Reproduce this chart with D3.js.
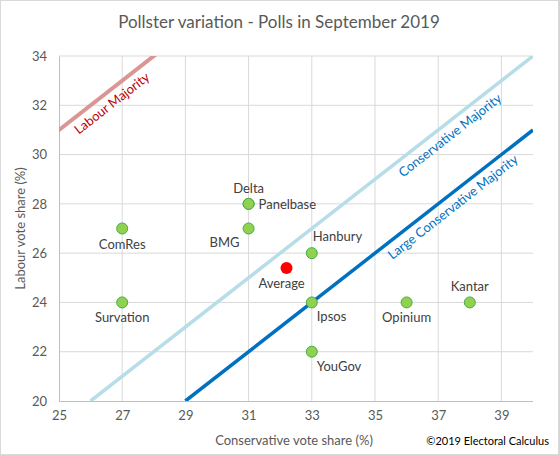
<!DOCTYPE html>
<html>
<head>
<meta charset="utf-8">
<script src="https://cdn.jsdelivr.net/npm/d3@7"></script>
<style>
  body { margin: 0; background: #fff; }
  svg { font-family: Lato, "Open Sans", sans-serif; }
</style>
</head>
<body>
<div id="chart"></div>
<script>
// poll data, September 2019
var pollsters = ['Delta', 'Panelbase', 'BMG', 'ComRes', 'Survation', 'Hanbury', 'Ipsos', 'YouGov', 'Opinium', 'Kantar'];
var conShare = [31, 31, 31, 27, 27, 33, 33, 33, 36, 38];
var labShare = [28, 28, 27, 27, 24, 26, 24, 22, 24, 24];
var averageCon = 32.2;
var averageLab = 25.4;

// boundary lines: labour = conservative + offset
var boundaryNames = ['Labour Majority', 'Conservative Majority', 'Large Conservative Majority'];
var boundaryOffsets = [6, -6, -9];

var xTicks = [25, 27, 29, 31, 33, 35, 37, 39];
var yTicks = [20, 22, 24, 26, 28, 30, 32, 34];

// where each label sits around its point
var labelPlace = {
  Delta: 'above', Panelbase: 'right', BMG: 'belowleft', ComRes: 'below',
  Survation: 'below', Hanbury: 'aboveright', Ipsos: 'belowright',
  YouGov: 'belowright', Opinium: 'below', Kantar: 'above', Average: 'below'
};
var boundaryStyle = [
  { stroke: '#da9694', width: 4, text: '#c00000' },
  { stroke: '#b7dde8', width: 3.5, text: '#0070c0' },
  { stroke: '#0070c0', width: 3.5, text: '#0070c0' }
];
var boundaryLabelX = [26.45, 37.15, 37.24];

var W = 559, H = 455;
var margin = { top: 56, right: 26, bottom: 54, left: 59 };

var svg = d3.select('#chart').append('svg')
  .attr('width', W).attr('height', H);

svg.append('rect')
  .attr('x', 0.5).attr('y', 0.5).attr('width', W - 1).attr('height', H - 1)
  .attr('fill', '#fff').attr('stroke', '#d9d9d9');

var x = d3.scaleLinear().domain([25, 40]).range([margin.left, W - margin.right]);
var y = d3.scaleLinear().domain([20, 34]).range([H - margin.bottom, margin.top]);

// gridlines
svg.append('g').selectAll('line').data(xTicks.slice(1)).enter().append('line')
  .attr('x1', function(d) { return x(d); }).attr('x2', function(d) { return x(d); })
  .attr('y1', y(20)).attr('y2', y(34))
  .attr('stroke', '#d9d9d9');
svg.append('g').selectAll('line').data(yTicks.slice(1)).enter().append('line')
  .attr('x1', x(25)).attr('x2', x(40))
  .attr('y1', function(d) { return y(d); }).attr('y2', function(d) { return y(d); })
  .attr('stroke', '#d9d9d9');

// axes
var xAxis = svg.append('g')
  .attr('transform', 'translate(0,' + y(20) + ')')
  .call(d3.axisBottom(x).tickValues(xTicks).tickSize(0).tickPadding(10));
var yAxis = svg.append('g')
  .attr('transform', 'translate(' + x(25) + ',0)')
  .call(d3.axisLeft(y).tickValues(yTicks).tickSize(0).tickPadding(12));
[xAxis, yAxis].forEach(function(a) {
  a.select('.domain').attr('stroke', '#bfbfbf');
  a.selectAll('text').attr('fill', '#595959').style('font-size', '13px')
    .style('font-family', 'Lato, sans-serif');
});
xAxis.select('.domain').attr('d', 'M' + x(25) + ',0.5H' + x(40));

// clip for boundary lines
svg.append('clipPath').attr('id', 'plotclip').append('rect')
  .attr('x', x(25)).attr('y', y(34)).attr('width', x(40) - x(25)).attr('height', y(20) - y(34));

var angle = Math.atan2(y(20) - y(21), x(1) - x(0)) * 180 / Math.PI;

boundaryNames.forEach(function(name, i) {
  var off = boundaryOffsets[i];
  var st = boundaryStyle[i];
  svg.append('line')
    .attr('clip-path', 'url(#plotclip)')
    .attr('x1', x(20 - off)).attr('y1', y(20))
    .attr('x2', x(40)).attr('y2', y(40 + off))
    .attr('stroke', st.stroke).attr('stroke-width', st.width);
  var lx = boundaryLabelX[i];
  svg.append('text')
    .attr('transform', 'translate(' + x(lx) + ',' + y(lx + off) + ') rotate(' + (-angle) + ')')
    .attr('dy', 16)
    .attr('text-anchor', 'middle')
    .attr('fill', st.text)
    .style('font-size', '13px')
    .text(name);
});

// points
function placeLabel(sel, place) {
  var o = {
    above: [0, -11, 'middle'], below: [0, 20, 'middle'], right: [10, 5, 'start'],
    belowleft: [-9, 18, 'end'], aboveright: [1, -12, 'start'], belowright: [5, 19, 'start']
  }[place];
  sel.attr('dx', o[0]).attr('dy', o[1]).attr('text-anchor', o[2]);
}

var pts = svg.append('g');
pollsters.forEach(function(p, i) {
  pts.append('circle')
    .attr('cx', x(conShare[i])).attr('cy', y(labShare[i])).attr('r', 5.5)
    .attr('fill', '#92d050').attr('stroke', '#3fae49').attr('stroke-width', 1);
  pts.append('text')
    .attr('x', x(conShare[i])).attr('y', y(labShare[i]))
    .attr('fill', '#404040').style('font-size', '13px')
    .text(p)
    .call(placeLabel, labelPlace[p]);
});
pts.append('circle')
  .attr('cx', x(averageCon)).attr('cy', y(averageLab)).attr('r', 6)
  .attr('fill', '#ff0000');
pts.append('text')
  .attr('x', x(averageCon) - 5).attr('y', y(averageLab))
  .attr('fill', '#404040').style('font-size', '13px')
  .text('Average')
  .call(placeLabel, labelPlace.Average);

// titles
svg.append('text')
  .attr('x', 279).attr('y', 28)
  .attr('text-anchor', 'middle').attr('fill', '#595959')
  .style('font-size', '17px')
  .text('Pollster variation - Polls in September 2019');
svg.append('text')
  .attr('x', (x(25) + x(40)) / 2 - 2).attr('y', 445)
  .attr('text-anchor', 'middle').attr('fill', '#595959')
  .style('font-size', '13px')
  .text('Conservative vote share (%)');
svg.append('text')
  .attr('transform', 'translate(25,' + (y(27)) + ') rotate(-90)')
  .attr('text-anchor', 'middle').attr('fill', '#595959')
  .style('font-size', '13px')
  .text('Labour vote share (%)');
svg.append('text')
  .attr('x', W - 10).attr('y', 445)
  .attr('text-anchor', 'end').attr('fill', '#000')
  .style('font-size', '11px')
  .text('\u00a92019 Electoral Calculus');
</script>
</body>
</html>
